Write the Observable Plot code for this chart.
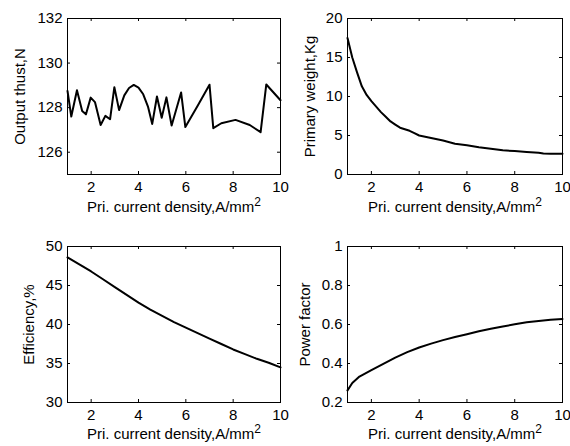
<!DOCTYPE html>
<html><head><meta charset="utf-8">
<script src="https://cdn.jsdelivr.net/npm/d3@7"></script>
<script src="https://cdn.jsdelivr.net/npm/@observablehq/plot@0.6"></script>
<style>
body{margin:0;background:#fff;}
#fig{position:relative;width:570px;height:446px;background:#fff;overflow:hidden;}
#fig svg{position:absolute;overflow:visible;}
</style></head><body><div id="fig"></div>
<script>
const xTicks = [2, 4, 6, 8, 10];
const xLabel = "Pri. current density,A/mm²";

const thrustX = [1.0, 1.16, 1.4, 1.62, 1.78, 1.98, 2.16, 2.4, 2.6, 2.8, 2.98, 3.18, 3.4, 3.6, 3.8, 4.0, 4.2, 4.4, 4.58, 4.78, 4.98, 5.18, 5.4, 5.8, 5.98, 6.5, 7.0, 7.16, 7.5, 8.1, 8.7, 9.16, 9.4, 10.0];
const thrustY = [128.75, 127.6, 128.78, 127.85, 127.7, 128.45, 128.25, 127.22, 127.63, 127.48, 128.92, 127.89, 128.55, 128.88, 129.02, 128.9, 128.6, 128.05, 127.27, 128.5, 127.55, 128.46, 127.2, 128.68, 127.13, 128.08, 129.03, 127.08, 127.3, 127.45, 127.22, 126.9, 129.04, 128.33];
const thrustTicks = [126, 128, 130, 132];

const weightX = [1.0, 1.2, 1.4, 1.6, 1.8, 2.0, 2.2, 2.4, 2.6, 2.8, 3.0, 3.2, 3.4, 3.6, 3.8, 4.0, 4.4, 5.0, 5.5, 6.0, 6.5, 7.0, 7.5, 8.0, 8.5, 9.0, 9.2, 9.5, 10.0];
const weightY = [17.5, 15.0, 13.1, 11.3, 10.2, 9.4, 8.7, 8.0, 7.4, 6.8, 6.4, 6.0, 5.8, 5.6, 5.3, 5.0, 4.75, 4.35, 3.95, 3.75, 3.5, 3.3, 3.1, 3.0, 2.9, 2.8, 2.7, 2.65, 2.65];
const weightTicks = [0, 5, 10, 15, 20];

const effX = [1, 1.5, 2, 2.5, 3, 3.5, 4, 4.5, 5, 5.5, 6, 6.5, 7, 7.5, 8, 8.5, 9, 9.5, 10];
const effY = [48.6, 47.7, 46.8, 45.8, 44.8, 43.8, 42.8, 41.9, 41.1, 40.3, 39.6, 38.9, 38.2, 37.5, 36.8, 36.2, 35.6, 35.1, 34.5];
const effTicks = [30, 35, 40, 45, 50];

const pfX = [1, 1.2, 1.5, 2, 2.5, 3, 3.5, 4, 4.5, 5, 5.5, 6, 6.5, 7, 7.5, 8, 8.5, 9, 9.5, 10];
const pfY = [0.262, 0.30, 0.333, 0.366, 0.398, 0.43, 0.458, 0.482, 0.502, 0.52, 0.536, 0.55, 0.565, 0.578, 0.59, 0.601, 0.611, 0.618, 0.624, 0.628];
const pfTicks = [0.2, 0.4, 0.6, 0.8, 1];

const FONT = "'Liberation Sans', Arial, Helvetica, sans-serif";
const FS = 15;
const svgNS = "http://www.w3.org/2000/svg";

function panel(o) {
  const W = 285, H = 223;
  const innerW = W - o.mL - o.mR, innerH = H - o.mT - o.mB;
  const data = o.xs.map((x, i) => ({x, y: o.ys[i]}));
  const t = 3;
  const p = Plot.plot({
    width: W, height: H,
    marginLeft: o.mL, marginRight: o.mR, marginTop: o.mT, marginBottom: o.mB,
    style: {fontFamily: FONT, fontSize: FS + "px", background: "transparent", overflow: "visible", color: "black"},
    x: {domain: [1, 10]},
    y: {domain: o.yDomain},
    marks: [
      Plot.line(data, {x: "x", y: "y", stroke: "black", strokeWidth: 2}),
      Plot.tickX(xTicks, {x: d => d, insetTop: innerH - t, stroke: "black"}),
      Plot.tickX(xTicks, {x: d => d, insetBottom: innerH - t, stroke: "black"}),
      Plot.tickY(o.yTicks, {y: d => d, insetRight: innerW - t, stroke: "black"}),
      Plot.tickY(o.yTicks, {y: d => d, insetLeft: innerW - t, stroke: "black"}),
      Plot.frame({stroke: "black"}),
      Plot.axisX(xTicks, {tickSize: 0, tickPadding: 7, label: null, fontSize: FS, tickFormat: d => String(d)}),
      Plot.axisY(o.yTicks, {tickSize: 0, tickPadding: 5, label: null, fontSize: FS, tickFormat: d => String(d)}),
      Plot.text([o.yLabel], {frameAnchor: "left", text: d => d, rotate: -90, dx: o.yDx, textAnchor: "middle", lineAnchor: "middle", fontSize: FS}),
      Plot.text([xLabel], {frameAnchor: "bottom", text: d => d, dy: o.xDy, textAnchor: "middle", lineAnchor: "middle", fontSize: FS})
    ]
  });
  p.style.left = o.left + "px";
  p.style.top = o.top + "px";
  p.querySelectorAll("text").forEach(el => {
    if (el.textContent === xLabel) {
      el.textContent = "Pri. current density,A/mm";
      const ts = document.createElementNS(svgNS, "tspan");
      ts.setAttribute("dy", "-6");
      ts.setAttribute("font-size", "12");
      ts.textContent = "2";
      el.appendChild(ts);
    }
  });
  document.getElementById("fig").appendChild(p);
}

panel({xs: thrustX, ys: thrustY, yDomain: [125, 132], yTicks: thrustTicks, yLabel: "Output thust,N",
  left: 0, top: 0, mL: 67, mR: 5, mT: 18, mB: 49, yDx: -47.5, xDy: 33});
panel({xs: weightX, ys: weightY, yDomain: [0, 20], yTicks: weightTicks, yLabel: "Primary weight,Kg",
  left: 285, top: 0, mL: 62, mR: 8, mT: 18, mB: 49, yDx: -37, xDy: 33});
panel({xs: effX, ys: effY, yDomain: [30, 50], yTicks: effTicks, yLabel: "Efficiency,%",
  left: 0, top: 223, mL: 67, mR: 5, mT: 23, mB: 44, yDx: -38, xDy: 32});
panel({xs: pfX, ys: pfY, yDomain: [0.2, 1], yTicks: pfTicks, yLabel: "Power factor",
  left: 285, top: 223, mL: 62, mR: 8, mT: 23, mB: 44, yDx: -42, xDy: 32});
</script>
</body></html>
